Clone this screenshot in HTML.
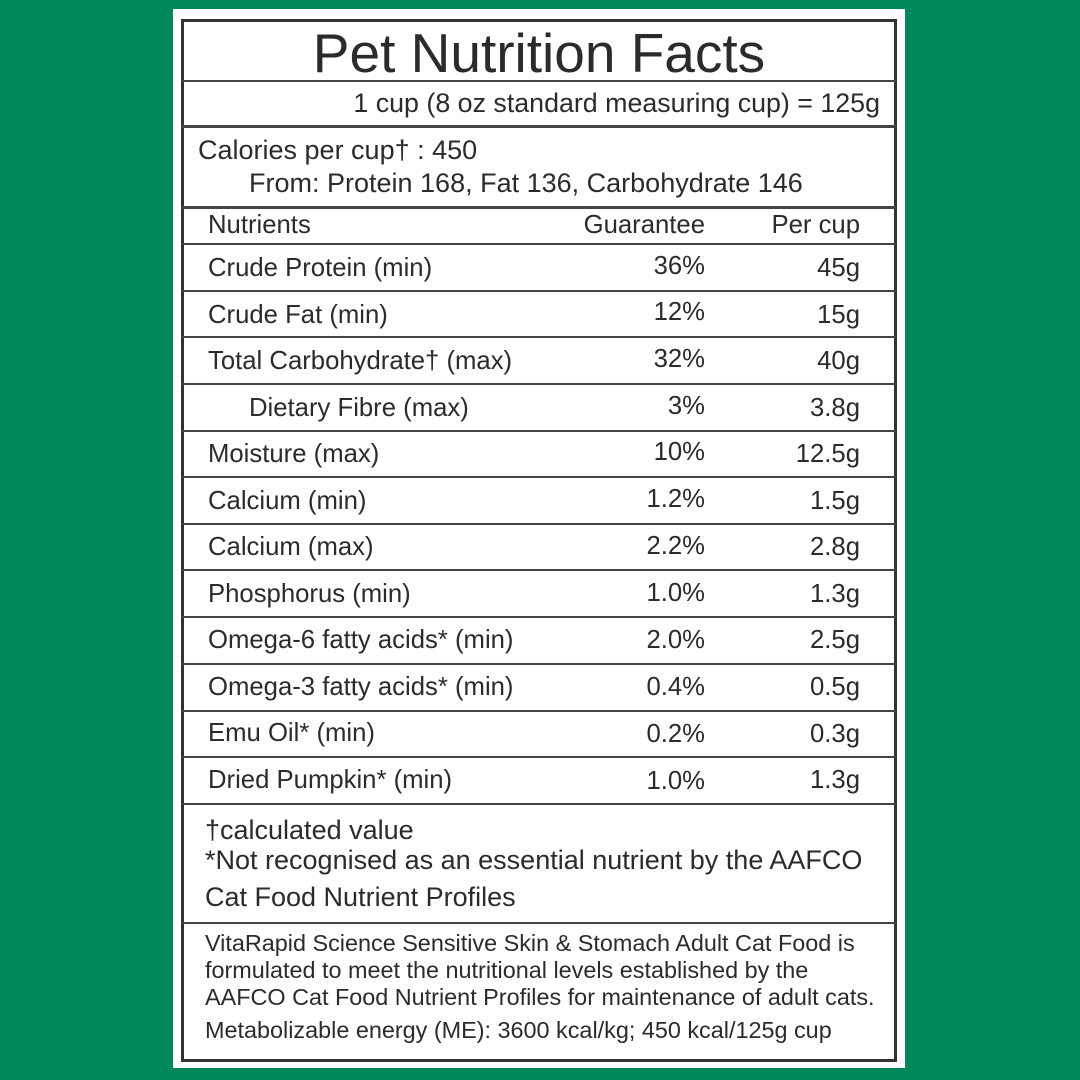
<!DOCTYPE html>
<html><head><meta charset="utf-8"><style>
*{margin:0;padding:0;box-sizing:border-box}
body{width:1080px;height:1080px;background:#00885b;position:relative;overflow:hidden;font-family:"Liberation Sans",sans-serif;color:#2b2b2b}
.panel{position:absolute;left:173px;top:9px;width:732px;height:1059px;background:#fff}
.box{position:absolute;left:181px;top:19px;width:716px;height:1043px;border:3px solid #333}
.h{position:absolute;left:181px;width:716px;background:#444}
.t{position:absolute;white-space:nowrap;line-height:1}
.r{text-align:right}
</style></head><body>
<div class="panel"></div>
<div class="box"></div>
<div class="h" style="top:80px;height:2px"></div>
<div class="h" style="top:125px;height:3px"></div>
<div class="h" style="top:206px;height:3px"></div>
<div class="h" style="top:243px;height:2px"></div>
<div class="h" style="top:290px;height:2px"></div>
<div class="h" style="top:336px;height:2px"></div>
<div class="h" style="top:383px;height:2px"></div>
<div class="h" style="top:430px;height:2px"></div>
<div class="h" style="top:476px;height:2px"></div>
<div class="h" style="top:523px;height:2px"></div>
<div class="h" style="top:569px;height:2px"></div>
<div class="h" style="top:616px;height:2px"></div>
<div class="h" style="top:663px;height:2px"></div>
<div class="h" style="top:710px;height:2px"></div>
<div class="h" style="top:756px;height:2px"></div>
<div class="h" style="top:803px;height:2px"></div>
<div class="h" style="top:922px;height:2px"></div>

<div class="t" style="left:181px;width:716px;top:26px;font-size:55px;text-align:center">Pet Nutrition Facts</div>
<div class="t r" style="right:200px;top:90px;font-size:26.8px">1 cup (8 oz standard measuring cup) = 125g</div>
<div class="t" style="left:198px;top:137px;font-size:27px">Calories per cup† : 450</div>
<div class="t" style="left:249px;top:170px;font-size:27px">From: Protein 168, Fat 136, Carbohydrate 146</div>

<div style="position:absolute;left:0;top:-2px;width:1080px;font-size:25.7px">
<div class="t" style="left:208px;top:215px">Nutrients</div>
<div class="t r" style="left:505px;top:215px;width:200px">Guarantee</div>
<div class="t r" style="left:660px;top:215px;width:200px">Per cup</div>
<div class="t" style="left:208px;top:258px">Crude Protein (min)</div><div class="t r" style="left:585px;top:256px;width:120px">36%</div><div class="t r" style="left:740px;top:258px;width:120px">45g</div>
<div class="t" style="left:208px;top:305px">Crude Fat (min)</div><div class="t r" style="left:585px;top:302px;width:120px">12%</div><div class="t r" style="left:740px;top:305px;width:120px">15g</div>
<div class="t" style="left:208px;top:351px">Total Carbohydrate† (max)</div><div class="t r" style="left:585px;top:349px;width:120px">32%</div><div class="t r" style="left:740px;top:351px;width:120px">40g</div>
<div class="t" style="left:249px;top:398px">Dietary Fibre (max)</div><div class="t r" style="left:585px;top:396px;width:120px">3%</div><div class="t r" style="left:740px;top:398px;width:120px">3.8g</div>
<div class="t" style="left:208px;top:444px">Moisture (max)</div><div class="t r" style="left:585px;top:442px;width:120px">10%</div><div class="t r" style="left:740px;top:444px;width:120px">12.5g</div>
<div class="t" style="left:208px;top:491px">Calcium (min)</div><div class="t r" style="left:585px;top:489px;width:120px">1.2%</div><div class="t r" style="left:740px;top:491px;width:120px">1.5g</div>
<div class="t" style="left:208px;top:537px">Calcium (max)</div><div class="t r" style="left:585px;top:536px;width:120px">2.2%</div><div class="t r" style="left:740px;top:537px;width:120px">2.8g</div>
<div class="t" style="left:208px;top:584px">Phosphorus (min)</div><div class="t r" style="left:585px;top:583px;width:120px">1.0%</div><div class="t r" style="left:740px;top:584px;width:120px">1.3g</div>
<div class="t" style="left:208px;top:630px">Omega-6 fatty acids* (min)</div><div class="t r" style="left:585px;top:630px;width:120px">2.0%</div><div class="t r" style="left:740px;top:630px;width:120px">2.5g</div>
<div class="t" style="left:208px;top:677px">Omega-3 fatty acids* (min)</div><div class="t r" style="left:585px;top:677px;width:120px">0.4%</div><div class="t r" style="left:740px;top:677px;width:120px">0.5g</div>
<div class="t" style="left:208px;top:723px">Emu Oil* (min)</div><div class="t r" style="left:585px;top:724px;width:120px">0.2%</div><div class="t r" style="left:740px;top:724px;width:120px">0.3g</div>
<div class="t" style="left:208px;top:770px">Dried Pumpkin* (min)</div><div class="t r" style="left:585px;top:771px;width:120px">1.0%</div><div class="t r" style="left:740px;top:770px;width:120px">1.3g</div>
</div>

<div class="t" style="left:205px;top:817px;font-size:27px">†calculated value</div>
<div class="t" style="left:205px;top:847px;font-size:27px">*Not recognised as an essential nutrient by the AAFCO</div>
<div class="t" style="left:205px;top:884px;font-size:27px">Cat Food Nutrient Profiles</div>

<div class="t" style="left:205px;top:932px;font-size:23.4px">VitaRapid Science Sensitive Skin &amp; Stomach Adult Cat Food is</div>
<div class="t" style="left:205px;top:959px;font-size:23.4px">formulated to meet the nutritional levels established by the</div>
<div class="t" style="left:205px;top:986px;font-size:23.4px">AAFCO Cat Food Nutrient Profiles for maintenance of adult cats.</div>
<div class="t" style="left:205px;top:1019px;font-size:23.4px">Metabolizable energy (ME): 3600 kcal/kg; 450 kcal/125g cup</div>
</body></html>
